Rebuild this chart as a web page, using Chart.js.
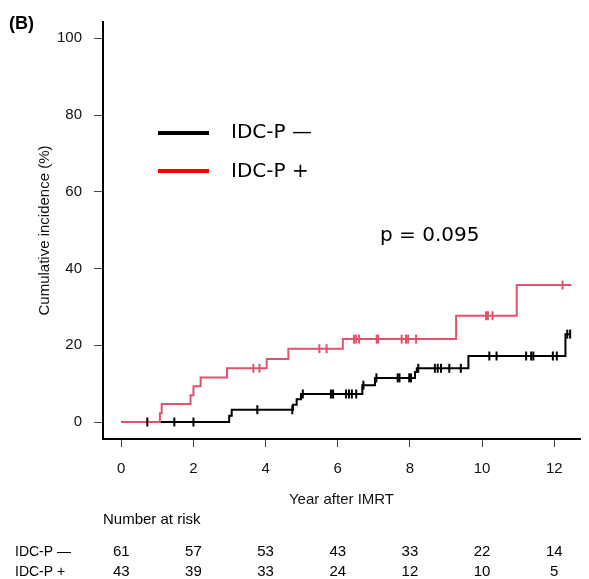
<!DOCTYPE html>
<html>
<head>
<meta charset="utf-8">
<script src="https://cdn.jsdelivr.net/npm/chart.js@4.4.1/dist/chart.umd.min.js"></script>
<style>
  html, body { margin: 0; padding: 0; background: #fff; }
  #wrap { width: 589px; height: 579px; }
</style>
</head>
<body>
<div id="wrap"><canvas id="ci" width="589" height="579"></canvas></div>
<script>
// ---- data ----
const GROUP_LABELS = ['IDC-P \u2014', 'IDC-P +'];

// IDC-P − : step times (years) and cumulative incidence (%) after each step
const NEG_TIMES  = [0, 2.99, 3.06, 4.76, 4.86, 4.98, 6.68, 7.03, 8.14, 8.19, 9.62, 12.31, 12.44];
const NEG_VALUES = [0, 1.6,  3.2,  4.5,  5.9,  7.3,  9.6,  11.5, 13.0, 14.0, 17.2, 22.9,  22.9];
const NEG_CENSOR = [0.72, 1.47, 2.0, 3.77, 4.74, 5.03, 5.81, 5.87, 6.23, 6.31, 6.39, 6.51, 6.71,
                    7.07, 7.66, 7.71, 7.98, 8.03, 8.23, 8.69, 8.77, 8.86, 9.09, 9.41, 10.2, 10.4,
                    11.22, 11.36, 11.42, 11.96, 12.07, 12.36, 12.44];

// IDC-P +
const POS_TIMES  = [0, 1.07, 1.12, 1.92, 2.0, 2.2,  2.93, 4.03, 4.63, 6.14, 9.28, 10.96, 12.48];
const POS_VALUES = [0, 2.3,  4.7,  7.0,  9.3, 11.6, 14.0, 16.4, 19.1, 21.6, 27.7, 35.7,  35.7];
const POS_CENSOR = [3.66, 3.83, 5.49, 5.69, 6.45, 6.51, 6.59, 7.08, 7.12, 7.77, 7.89, 7.95, 8.17,
                    10.11, 10.16, 10.29, 12.23];

const X_TICKS = [0, 2, 4, 6, 8, 10, 12];
const Y_TICKS = [0, 20, 40, 60, 80, 100];

const RISK_TIMES = [0, 2, 4, 6, 8, 10, 12];
const RISK_NEG   = [61, 57, 53, 43, 33, 22, 14];
const RISK_POS   = [43, 39, 33, 24, 12, 10, 5];

const P_TEXT = 'p = 0.095';

// ---- helpers ----
const RED = '#DF536B';
const AXIS_FONT = '"Liberation Sans", Arial, sans-serif';
const LEG_FONT  = '"DejaVu Sans", Verdana, sans-serif';

function stepAt(times, values, t) {
  let v = values[0];
  for (let i = 0; i < times.length; i++) if (times[i] <= t) v = values[i];
  return v;
}
const toXY = (times, values) => times.map((t, i) => ({ x: t, y: values[i] }));
const censorPts = (cens, times, values) => cens.map(t => ({ x: t, y: stepAt(times, values, t) }));

// ---- overlay texts: panel tag, legend, p value, risk table ----
const overlay = {
  id: 'overlay',
  afterDraw(chart) {
    const ctx = chart.ctx;
    const xs = chart.scales.x;
    ctx.save();
    ctx.fillStyle = '#000';
    ctx.textBaseline = 'middle';

    ctx.font = 'bold 18px ' + AXIS_FONT;
    ctx.textAlign = 'left';
    ctx.fillText('(B)', 9, 24);

    // legend
    ctx.lineWidth = 4;
    ctx.strokeStyle = '#000';
    ctx.beginPath(); ctx.moveTo(158, 133); ctx.lineTo(209, 133); ctx.stroke();
    ctx.strokeStyle = '#FF0000';
    ctx.beginPath(); ctx.moveTo(158, 171); ctx.lineTo(209, 171); ctx.stroke();
    ctx.font = '20px ' + LEG_FONT;
    ctx.fillText(GROUP_LABELS[0], 231, 133);
    ctx.fillText(GROUP_LABELS[1], 231, 172);
    ctx.fillText(P_TEXT, 380, 236);

    // number at risk
    ctx.font = '15px ' + AXIS_FONT;
    ctx.fillText('Number at risk', 103, 520);
    ctx.font = '14px ' + AXIS_FONT;
    ctx.fillText(GROUP_LABELS[0], 15, 552);
    ctx.fillText(GROUP_LABELS[1], 15, 572);
    ctx.font = '15px ' + AXIS_FONT;
    ctx.textAlign = 'center';
    RISK_TIMES.forEach((t, i) => {
      const px = xs.getPixelForValue(t);
      ctx.fillText(String(RISK_NEG[i]), px, 552);
      ctx.fillText(String(RISK_POS[i]), px, 572);
    });
    ctx.restore();
  },
};

const censorStyle = col => ({
  showLine: false, pointStyle: 'line', pointRotation: 90,
  pointRadius: 4.5, pointBorderWidth: 2, borderColor: col, backgroundColor: col,
});

new Chart(document.getElementById('ci').getContext('2d'), {
  type: 'scatter',
  data: {
    datasets: [
      { label: 'neg censor', data: censorPts(NEG_CENSOR, NEG_TIMES, NEG_VALUES), order: 0, ...censorStyle('#000') },
      { label: 'pos censor', data: censorPts(POS_CENSOR, POS_TIMES, POS_VALUES), order: 1, ...censorStyle(RED) },
      { label: GROUP_LABELS[1], data: toXY(POS_TIMES, POS_VALUES), order: 2,
        showLine: true, stepped: true, borderColor: RED, borderWidth: 2, pointRadius: 0 },
      { label: GROUP_LABELS[0], data: toXY(NEG_TIMES, NEG_VALUES), order: 3,
        showLine: true, stepped: true, borderColor: '#000', borderWidth: 2, pointRadius: 0 },
    ],
  },
  options: {
    responsive: false,
    animation: false,
    devicePixelRatio: 1,
    layout: { padding: { top: 22, right: 9, bottom: 0, left: 0 } },
    plugins: { legend: { display: false }, tooltip: { enabled: false } },
    scales: {
      x: {
        type: 'linear', min: -0.507, max: 12.713,
        afterFit: s => { s.height = 140; },
        afterBuildTicks: s => { s.ticks = X_TICKS.map(v => ({ value: v })); },
        border: { display: true, color: '#000', width: 2 },
        grid: { drawOnChartArea: false, drawTicks: true, tickLength: 8, color: '#444', lineWidth: 1 },
        ticks: { color: '#111', padding: 13, maxRotation: 0, font: { family: AXIS_FONT, size: 15 } },
        title: { display: true, text: 'Year after IMRT', color: '#111',
                 font: { family: AXIS_FONT, size: 15 }, padding: { top: 0, bottom: 70 } },
      },
      y: {
        type: 'linear', min: -4.43, max: 104.25,
        afterFit: s => { s.width = 103; },
        afterBuildTicks: s => { s.ticks = Y_TICKS.map(v => ({ value: v })); },
        border: { display: true, color: '#000', width: 2 },
        grid: { drawOnChartArea: false, drawTicks: true, tickLength: 9, color: '#444', lineWidth: 1 },
        ticks: { color: '#111', padding: 12, font: { family: AXIS_FONT, size: 15 } },
        title: { display: true, text: 'Cumulative incidence (%)', color: '#111',
                 font: { family: AXIS_FONT, size: 15 }, padding: { top: 36, bottom: 0 } },
      },
    },
  },
  plugins: [overlay],
});
</script>
</body>
</html>
